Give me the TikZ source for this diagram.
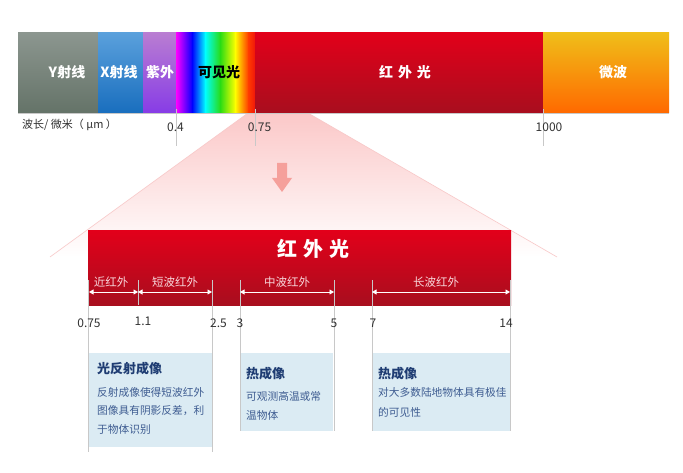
\documentclass[tikz,border=0pt]{standalone}
\usepackage{fontspec}
\setmainfont{Noto Sans CJK SC}
\usetikzlibrary{arrows.meta}
\definecolor{grayT}{RGB}{140,150,143}
\definecolor{grayB}{RGB}{100,115,104}
\definecolor{blueT}{RGB}{90,160,220}
\definecolor{blueB}{RGB}{25,110,190}
\definecolor{purT}{RGB}{185,125,210}
\definecolor{purB}{RGB}{135,60,230}
\definecolor{redT}{RGB}{226,0,26}
\definecolor{redB}{RGB}{168,14,30}
\definecolor{orT}{RGB}{240,190,25}
\definecolor{orB}{RGB}{255,105,0}
\definecolor{funnelpink}{RGB}{251,200,200}
\definecolor{edgepink}{RGB}{248,200,200}
\definecolor{arrowpink}{RGB}{245,160,155}
\definecolor{tickgray}{RGB}{200,200,200}
\definecolor{numtxt}{RGB}{50,50,50}
\definecolor{boxfill}{RGB}{219,235,243}
\definecolor{boxtitle}{RGB}{31,61,115}
\definecolor{boxbody}{RGB}{62,92,145}
\definecolor{sublbl}{RGB}{248,214,218}
\begin{document}
\begin{tikzpicture}[x=1pt,y=-1pt,
  toplbl/.style={text=white,font=\bfseries\fontsize{14}{16}\selectfont,inner sep=0pt},
  tickline/.style={draw=tickgray,line width=0.9pt},
  numlbl/.style={text=numtxt,font=\fontsize{12}{14}\selectfont,inner sep=0pt},
  sublabel/.style={text=sublbl,font=\fontsize{11.5}{13}\selectfont,inner sep=0pt},
  bandarrow/.style={draw=white,line width=0.8pt,{Triangle[width=5pt,length=4.5pt]}-{Triangle[width=5pt,length=4.5pt]}},
  boxbg/.style={fill=boxfill,draw=none},
  btitle/.style={text=boxtitle,font=\bfseries\fontsize{13}{15}\selectfont,inner sep=0pt,anchor=west},
  bbody/.style={text=boxbody,font=\fontsize{10.7}{13}\selectfont,inner sep=0pt,anchor=west}]
\useasboundingbox (0,0) rectangle (683,473);
\fill[white] (0,0) rectangle (683,473);
% funnel
\shade[top color=funnelpink,bottom color=white] (248,113) -- (308,113) -- (557,257) -- (50,257) -- cycle;
\coordinate (fTL) at (248,113);
\coordinate (fTR) at (308,113);
\coordinate (fBL) at (50,257);
\coordinate (fBR) at (557,257);
\draw[edgepink,line width=0.6pt] (fTL) -- (fBL);
\draw[edgepink,line width=0.6pt] (fTR) -- (fBR);
% down arrow
\fill[arrowpink] (277,163) -- (287,163) -- (287,178) -- (292,178) -- (282,192) -- (272,178) -- (277,178) -- cycle;
% top spectrum bar
\shade[top color=grayT,bottom color=grayB] (18,33) rectangle (98.5,113);
\shade[top color=blueT,bottom color=blueB] (98,33) rectangle (143.5,113);
\shade[top color=purT,bottom color=purB] (143,33) rectangle (176.5,113);
\shade[left color=magenta,right color=blue] (176,33) rectangle (192.5,113);
\shade[left color=blue,right color=cyan] (192,33) rectangle (205.5,113);
\shade[left color=cyan,right color={rgb,255:red,40;green,220;blue,20}] (205,33) rectangle (220.5,113);
\shade[left color={rgb,255:red,40;green,220;blue,20},right color=yellow] (220,33) rectangle (235.5,113);
\shade[left color=yellow,right color={rgb,255:red,255;green,60;blue,0}] (235,33) rectangle (248.5,113);
\shade[left color={rgb,255:red,255;green,60;blue,0},right color={rgb,255:red,240;green,20;blue,10}] (248,33) rectangle (255.5,113);
\shade[top color=redT,bottom color=redB] (255,33) rectangle (543.5,113);
\shade[top color=orT,bottom color=orB] (543,33) rectangle (669,113);
\draw[tickgray,line width=0.8pt] (18,113) -- (669,113);
\node[toplbl] (gamma) at (67,72) {Y射线};
\node[toplbl] (xray) at (119,72) {X射线};
\node[toplbl] (uv) at (160,72) {紫外};
\node[toplbl,text=black] (vis) at (219,72) {可见光};
\node[toplbl] (ir) at (405,72) {红\hspace{5pt}外\hspace{5pt}光};
\node[toplbl] (mw) at (613,72) {微波};
% top ticks
\draw[tickline] (176,109) -- (176,146);
\draw[tickline] (255,109) -- (255,146);
\draw[tickline] (543,109) -- (543,146);
\node[numlbl,anchor=west,font=\fontsize{11}{13}\selectfont] (wl) at (22,125) {波长/ 微米（ μm ）};
\node[numlbl] (t04) at (175.5,127) {0.4};
\node[numlbl] (t075) at (259.5,127) {0.75};
\node[numlbl] (t1000) at (549,127) {1000};
% infrared bar
\shade[top color=redT,bottom color=redB] (88,231) rectangle (511,305);
\node[text=white,font=\bfseries\fontsize{20}{22}\selectfont,inner sep=0pt] (irtitle) at (313,249) {红\hspace{6pt}外\hspace{6pt}光};
% boxes
\fill[boxbg] (89,353) rectangle (212,447);
\fill[boxbg] (240,353) rectangle (333,431);
\fill[boxbg] (372,353) rectangle (510,431);
% ticks in bar
\draw[tickline] (88.5,280) -- (88.5,452);
\draw[tickline] (138,280) -- (138,305);
\draw[tickline] (212,280) -- (212,452);
\draw[tickline] (240,280) -- (240,431);
\draw[tickline] (334,280) -- (334,431);
\draw[tickline] (372,280) -- (372,431);
\draw[tickline] (510,280) -- (510,431);
% band arrows
\coordinate (a075) at (89,292);
\coordinate (a11) at (138,292);
\coordinate (a25) at (212,292);
\coordinate (a3) at (240,292);
\coordinate (a5) at (334,292);
\coordinate (a7) at (372,292);
\coordinate (a14) at (510,292);
\draw[bandarrow] (a075) -- (a11);
\draw[bandarrow] (a11) -- (a25);
\draw[bandarrow] (a3) -- (a5);
\draw[bandarrow] (a7) -- (a14);
\node[sublabel] (nir) at (111,282) {近红外};
\node[sublabel] (swir) at (175,282) {短波红外};
\node[sublabel] (mwir) at (287,282) {中波红外};
\node[sublabel] (lwir) at (436,282) {长波红外};
% tick numbers
\node[numlbl] (b075) at (89,323) {0.75};
\node[numlbl] (b11) at (143,321) {1.1};
\node[numlbl] (b25) at (218.5,323) {2.5};
\node[numlbl] (b3) at (240,323) {3};
\node[numlbl] (b5) at (334,323) {5};
\node[numlbl] (b7) at (373,323) {7};
\node[numlbl] (b14) at (506,323) {14};
% box texts
\node[btitle] (t1) at (97,369) {光反射成像};
\node[bbody] (b1a) at (97,392) {反射成像使得短波红外};
\node[bbody] (b1b) at (97,411) {图像具有阴影反差，利};
\node[bbody] (b1c) at (97,429) {于物体识别};
\node[btitle] (t2) at (246,374) {热成像};
\node[bbody] (b2a) at (246,396) {可观测高温或常};
\node[bbody] (b2b) at (246,415) {温物体};
\node[btitle] (t3) at (378,374) {热成像};
\node[bbody] (b3a) at (378,392) {对大多数陆地物体具有极佳};
\node[bbody] (b3b) at (378,412) {的可见性};
\end{tikzpicture}
\end{document}
